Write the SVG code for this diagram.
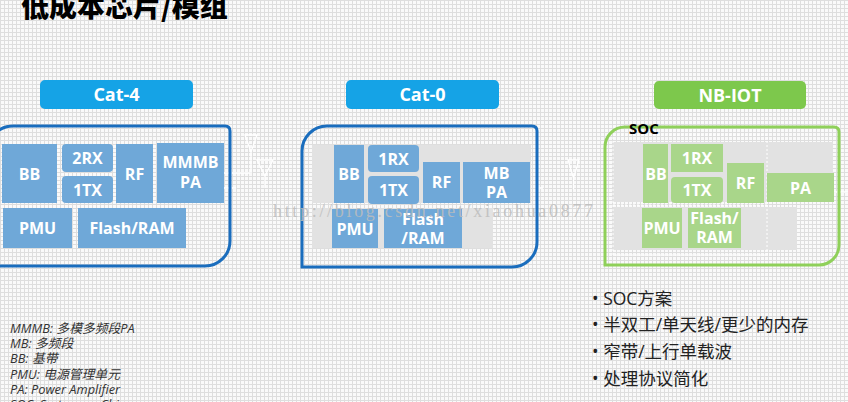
<svg xmlns="http://www.w3.org/2000/svg" width="848" height="402" viewBox="0 0 848 402">
<defs>
<pattern id="grid" width="4" height="4" patternUnits="userSpaceOnUse">
<rect width="4" height="4" fill="#fafafa"/>
<path d="M0,0.5H4M0.5,0V4" stroke="#dedede" stroke-width="1"/>
</pattern>
</defs>
<style>
.title{font-family:"Noto Sans CJK SC","Noto Sans",sans-serif;font-weight:900;font-size:28px;fill:#000}
.tag{font-family:"Open Sans","Noto Sans",sans-serif;font-weight:bold;font-size:18px;fill:#fff}
.bt{font-family:"Open Sans","Noto Sans",sans-serif;font-weight:bold;font-size:16px;fill:#fff}
.blue{fill:#6fa8d8}
.green{fill:#a9d68a}
.ghost{fill:#e2e2e2}
.boxb{fill:none;stroke:#1a6dbd;stroke-width:3}
.boxg{fill:none;stroke:#8fd05a;stroke-width:3}
.ant{fill:none;stroke:#fff;stroke-width:1.3}
.leg{font-family:"Open Sans","Noto Sans","Noto Sans CJK SC",sans-serif;font-style:italic;font-size:12.8px;fill:#333}
.bul{font-family:"Open Sans","Noto Sans CJK SC",sans-serif;font-size:17.5px;fill:#222}
.wm{font-family:"Liberation Serif",serif;font-size:18px;fill:#bdbdbd;opacity:0.85}
</style>
<rect width="848" height="402" fill="url(#grid)"/>
<text class="title" x="21" y="17">低成本芯片/模组</text>

<g id="cat4-label">
<rect x="40" y="80" width="153" height="29" rx="5" fill="#15a3e6"/>
<text class="tag" x="116.5" y="101" text-anchor="middle">Cat-4</text>
</g>
<g id="cat0-label">
<rect x="346" y="80" width="153" height="29" rx="5" fill="#15a3e6"/>
<text class="tag" x="422.5" y="101" text-anchor="middle">Cat-0</text>
</g>
<g id="nbiot-label">
<rect x="654" y="81" width="152" height="28" rx="5" fill="#7dc84c"/>
<text class="tag" x="730" y="101.5" text-anchor="middle">NB-IOT</text>
</g>

<g id="connectors">
<path class="ant" d="M224,173H250M223,188H236M538,188H543M834,192H848"/>
<path class="ant" d="M245,135H257L251,152ZM251,152V173M257,160H273L265,176ZM265,176V188"/>
<path class="ant" d="M568,160H579L573.5,178ZM573.5,178V189"/>
</g>

<g id="cat4">
<path class="boxb" d="M13,126H225Q230,126 230,131V241A25,25 0 0 1 205,266H-12V151A25,25 0 0 1 13,126Z"/>
<g id="cat4-bb"><rect class="blue" x="2" y="144" width="55" height="59"/><text class="bt" x="29.5" y="179.5" text-anchor="middle">BB</text></g>
<g id="cat4-2rx"><rect class="blue" x="62" y="144" width="51" height="28" rx="4"/><text class="bt" x="87.5" y="164" text-anchor="middle">2RX</text></g>
<g id="cat4-1tx"><rect class="blue" x="62" y="176" width="51" height="27" rx="4"/><text class="bt" x="87.5" y="195.5" text-anchor="middle">1TX</text></g>
<g id="cat4-rf"><rect class="blue" x="116" y="144" width="37" height="59"/><text class="bt" x="134.5" y="179.5" text-anchor="middle">RF</text></g>
<g id="cat4-pa"><rect class="blue" x="157" y="143" width="67" height="60"/><text class="bt" x="190.5" y="168" text-anchor="middle">MMMB</text><text class="bt" x="190.5" y="188" text-anchor="middle">PA</text></g>
<g id="cat4-pmu"><rect class="blue" x="3" y="208" width="69" height="40"/><text class="bt" x="37.5" y="234" text-anchor="middle">PMU</text></g>
<g id="cat4-flash"><rect class="blue" x="78" y="208" width="108" height="40"/><text class="bt" x="132" y="234" text-anchor="middle">Flash/RAM</text></g>
</g>

<g id="cat0">
<path class="boxb" d="M327,126H532Q537,126 537,131V242A25,25 0 0 1 512,267H302V151A25,25 0 0 1 327,126Z"/>
<rect class="ghost" x="312" y="145" width="219" height="58"/>
<rect class="ghost" x="312" y="208" width="181" height="40"/>
<g id="cat0-bb"><rect class="blue" x="334" y="145" width="30" height="58"/><text class="bt" x="349" y="179.5" text-anchor="middle">BB</text></g>
<g id="cat0-1rx"><rect class="blue" x="368" y="145" width="51" height="27" rx="4"/><text class="bt" x="393.5" y="164.5" text-anchor="middle">1RX</text></g>
<g id="cat0-1tx"><rect class="blue" x="368" y="176" width="51" height="28" rx="4"/><text class="bt" x="393.5" y="196" text-anchor="middle">1TX</text></g>
<g id="cat0-rf"><rect class="blue" x="423" y="162" width="37" height="41"/><text class="bt" x="441.5" y="188" text-anchor="middle">RF</text></g>
<g id="cat0-pa"><rect class="blue" x="463" y="162" width="67" height="41"/><text class="bt" x="496.5" y="179" text-anchor="middle">MB</text><text class="bt" x="496.5" y="198" text-anchor="middle">PA</text></g>
<g id="cat0-pmu"><rect class="blue" x="332" y="209" width="46" height="39"/><text class="bt" x="355" y="234.5" text-anchor="middle">PMU</text></g>
<g id="cat0-flash"><rect class="blue" x="384" y="209" width="78" height="39"/><text class="bt" x="423" y="225" text-anchor="middle">Flash</text><text class="bt" x="423" y="244" text-anchor="middle">/RAM</text></g>
</g>

<g id="nbiot">
<path class="boxg" d="M625,127H834Q839,127 839,132V245A20,20 0 0 1 819,265H605V147A20,20 0 0 1 625,127Z"/>
<rect class="ghost" x="613" y="142" width="220" height="60"/>
<rect class="ghost" x="613" y="207" width="184" height="43"/>
<rect x="613" y="135" width="154" height="120" fill="none" stroke="#fff" stroke-width="1" stroke-dasharray="2,2"/>
<path d="M613,205H767" stroke="#fff" stroke-width="1" stroke-dasharray="2,2"/>
<g id="nb-bb"><rect class="green" x="643" y="144" width="25" height="59"/><text class="bt" x="656" y="179.5" text-anchor="middle">BB</text></g>
<g id="nb-1rx"><rect class="green" x="671" y="144" width="52" height="28"/><text class="bt" x="697" y="164" text-anchor="middle">1RX</text></g>
<g id="nb-1tx"><rect class="green" x="671" y="177" width="52" height="26" rx="4"/><text class="bt" x="697" y="196" text-anchor="middle">1TX</text></g>
<g id="nb-rf"><rect class="green" x="727" y="163" width="37" height="40"/><text class="bt" x="745.5" y="188.5" text-anchor="middle">RF</text></g>
<g id="nb-pa"><rect class="green" x="767" y="173" width="67" height="29"/><text class="bt" x="800.5" y="193.5" text-anchor="middle">PA</text></g>
<g id="nb-pmu"><rect class="green" x="642" y="208" width="40" height="40"/><text class="bt" x="662" y="234" text-anchor="middle">PMU</text></g>
<g id="nb-flash"><rect class="green" x="688" y="208" width="53" height="40"/><text class="bt" x="714.5" y="224" text-anchor="middle">Flash/</text><text class="bt" x="714.5" y="243" text-anchor="middle">RAM</text></g>
<text x="629" y="134" font-family="'Open Sans','Noto Sans',sans-serif" font-weight="bold" font-size="15" fill="#000">SOC</text>
</g>

<text class="wm" x="273" y="217" textLength="320" lengthAdjust="spacing">http://blog.csdn.net/xiaohua0877</text>

<g id="legend">
<text class="leg" x="10" y="333">MMMB: 多模多频段PA</text>
<text class="leg" x="10" y="348">MB: 多频段</text>
<text class="leg" x="10" y="363">BB: 基带</text>
<text class="leg" x="10" y="379">PMU: 电源管理单元</text>
<text class="leg" x="10" y="394">PA: Power Amplifier</text>
<text class="leg" x="10" y="409">SOC: System on Chip</text>
</g>

<g id="bullets">
<text class="bul" x="592" y="305">• SOC方案</text>
<text class="bul" x="592" y="331">• 半双工/单天线/更少的内存</text>
<text class="bul" x="592" y="358">• 窄带/上行单载波</text>
<text class="bul" x="592" y="385">• 处理协议简化</text>
</g>
</svg>
